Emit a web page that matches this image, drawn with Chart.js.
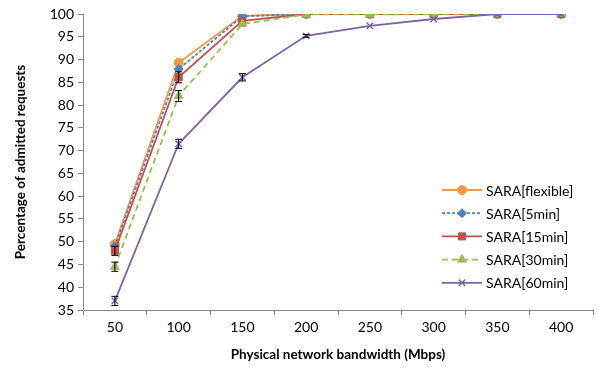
<!DOCTYPE html>
<html>
<head>
<meta charset="utf-8">
<script src="https://cdn.jsdelivr.net/npm/chart.js@4"></script>
<style>
  html, body { margin: 0; padding: 0; background: #fff; }
  #wrap { width: 599px; height: 367px; position: relative; }
</style>
</head>
<body>
<div id="wrap"><canvas id="chart" width="599" height="367"></canvas></div>
<script>
// bandwidth categories (Mbps)
const bandwidths = ['50', '100', '150', '200', '250', '300', '350', '400'];

// admitted requests (%) per series
const flexibleVals = [49.5, 89.3, 99.6, 100, 100, 100, 100, 100];
const min5Vals     = [49.0, 87.9, 99.5, 100, 100, 100, 100, 100];
const min15Vals    = [48.0, 86.1, 98.5, 100, 100, 100, 100, 100];
const min30Vals    = [44.5, 82.0, 97.8, 99.9, 99.9, 99.9, 100, 100];
const min60Vals    = [37.0, 71.5, 86.1, 95.2, 97.4, 98.9, 100, 100];

// error bar half-widths
const min15Err = [1.0, 1.2, 0, 0, 0, 0, 0, 0];
const min30Err = [1.0, 1.2, 0, 0, 0, 0, 0, 0];
const min60Err = [1.0, 1.0, 0.8, 0.3, 0, 0, 0, 0];

const yTicks = { min: 35, max: 100, step: 5 };

const FONT = 'Lato, "Open Sans", sans-serif';

function series(label, data, color, style, radius, dash, err, order) {
    return {
        label, data, err: err || null, order,
        borderColor: color, backgroundColor: color,
        borderWidth: 1.8, borderDash: dash || [],
        pointStyle: style, pointRadius: radius, pointHoverRadius: radius,
        pointBorderWidth: style === 'crossRot' ? 1.5 : 1,
        pointBorderColor: color, pointBackgroundColor: color,
        tension: 0, fill: false
    };
}

// error bars, drawn on top of each series
const errorBars = {
    id: 'errorBars',
    afterDatasetsDraw(chart) {
        const ctx = chart.ctx, y = chart.scales.y;
        ctx.save();
        ctx.strokeStyle = '#000';
        ctx.lineWidth = 1;
        chart.data.datasets.forEach((ds, di) => {
            if (!ds.err) return;
            const meta = chart.getDatasetMeta(di);
            meta.data.forEach((pt, i) => {
                const e = ds.err[i];
                if (!e) return;
                const top = y.getPixelForValue(ds.data[i] + e);
                const bot = y.getPixelForValue(ds.data[i] - e);
                ctx.beginPath();
                ctx.moveTo(pt.x, top); ctx.lineTo(pt.x, bot);
                ctx.moveTo(pt.x - 3.5, top); ctx.lineTo(pt.x + 3.5, top);
                ctx.moveTo(pt.x - 3.5, bot); ctx.lineTo(pt.x + 3.5, bot);
                ctx.stroke();
            });
        });
        ctx.restore();
    }
};

// excel style legend: line with marker in the middle
const sideLegend = {
    id: 'sideLegend',
    afterDraw(chart) {
        const ctx = chart.ctx;
        const x0 = 442, x1 = 482, yStart = 190, gap = 23.2;
        ctx.save();
        ctx.font = '14px ' + FONT;
        ctx.textBaseline = 'middle';
        chart.data.datasets.forEach((ds, i) => {
            const yy = yStart + i * gap;
            ctx.strokeStyle = ds.borderColor;
            ctx.lineWidth = ds.borderWidth;
            ctx.setLineDash(ds.borderDash);
            ctx.beginPath(); ctx.moveTo(x0, yy); ctx.lineTo(x1, yy); ctx.stroke();
            ctx.setLineDash([]);
            ctx.fillStyle = ds.pointBackgroundColor;
            ctx.lineWidth = ds.pointBorderWidth;
            Chart.helpers.drawPoint(ctx, { pointStyle: ds.pointStyle, radius: ds.pointRadius, borderWidth: ds.pointBorderWidth, rotation: 0 }, (x0 + x1) / 2, yy);
            ctx.fillStyle = '#000';
            ctx.fillText(ds.label, 486, yy + 1);
        });
        ctx.restore();
    }
};

new Chart(document.getElementById('chart'), {
    type: 'line',
    data: {
        labels: bandwidths,
        datasets: [
            series('SARA[flexible]', flexibleVals, '#F79646', 'circle', 4.5, null, null, 5),
            series('SARA[5min]', min5Vals, '#4F81BD', 'rectRot', 4.5, [3, 2], null, 4),
            series('SARA[15min]', min15Vals, '#C0504D', 'rect', 5, null, min15Err, 3),
            series('SARA[30min]', min30Vals, '#9BBB59', 'triangle', 5, [6, 4], min30Err, 2),
            series('SARA[60min]', min60Vals, '#8064A2', 'crossRot', 4.5, null, min60Err, 1)
        ]
    },
    options: {
        responsive: false,
        animation: false,
        layout: { padding: { top: 14, right: 5, left: 9, bottom: 0 } },
        plugins: { legend: { display: false }, tooltip: { enabled: false } },
        scales: {
            x: {
                offset: true,
                grid: { offset: true, drawOnChartArea: false, tickLength: 5, color: '#868686' },
                border: { color: '#868686', width: 1 },
                ticks: { color: '#000', font: { family: FONT, size: 14 }, padding: 4, maxRotation: 0 },
                title: { display: true, text: 'Physical network bandwidth (Mbps)', color: '#000', font: { family: FONT, size: 13.5, weight: 'bold' }, padding: { top: 2 } },
                afterFit: s => { s.height = 57; }
            },
            y: {
                min: yTicks.min, max: yTicks.max,
                grid: { drawOnChartArea: false, tickLength: 5, color: '#868686' },
                border: { color: '#868686', width: 1 },
                ticks: { stepSize: yTicks.step, color: '#000', font: { family: FONT, size: 14 }, padding: 4 },
                title: { display: true, text: 'Percentage of admitted requests', color: '#000', font: { family: FONT, size: 13.5, weight: 'bold' }, padding: { bottom: 10 } },
                afterFit: s => { s.width = 74; }
            }
        }
    },
    plugins: [errorBars, sideLegend]
});
</script>
</body>
</html>
